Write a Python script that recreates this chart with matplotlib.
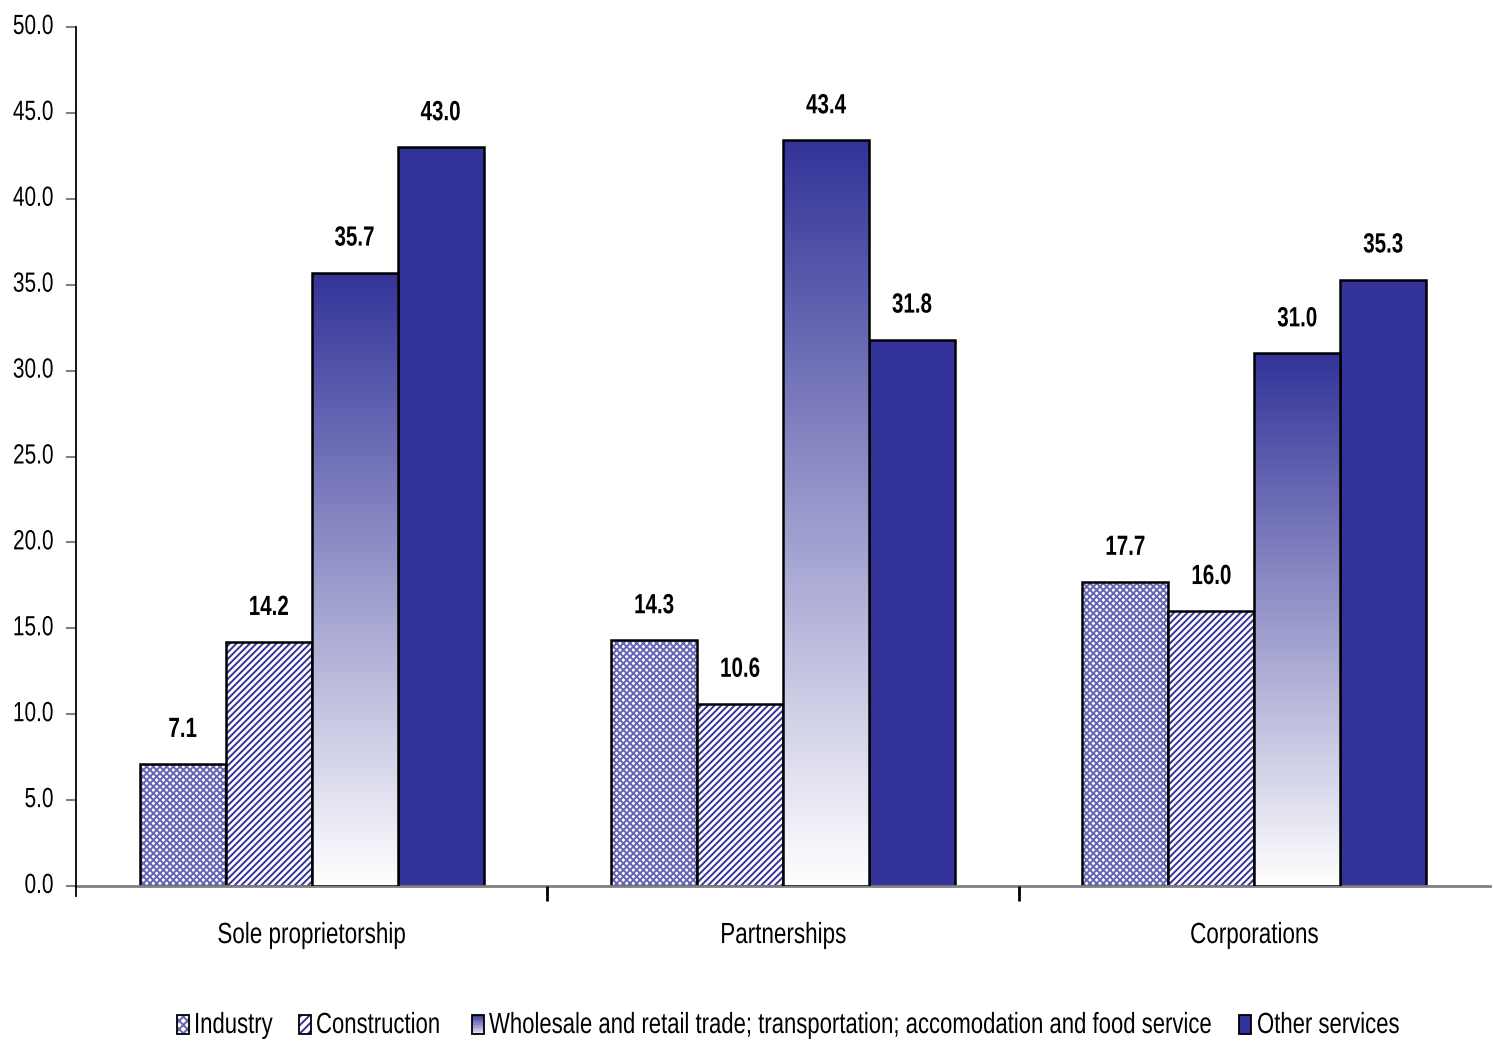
import numpy as np
import matplotlib
matplotlib.use("Agg")
import matplotlib.pyplot as plt
from matplotlib.patches import Rectangle
from matplotlib.colors import LinearSegmentedColormap
from matplotlib.lines import Line2D
from matplotlib.patheffects import AbstractPathEffect
from matplotlib.transforms import Affine2D

categories = ["Sole proprietorship", "Partnerships", "Corporations"]
series_names = ["Industry", "Construction",
                "Wholesale and retail trade; transportation; accomodation and food service",
                "Other services"]
industry = [7.1, 14.3, 17.7]
construction = [14.2, 10.6, 16.0]
wholesale = [35.7, 43.4, 31.0]
other_services = [43.0, 31.8, 35.3]
yticks = [0, 5, 10, 15, 20, 25, 30, 35, 40, 45, 50]

NAVY = "#333399"
HATCH_BLUE = "#6464b4"
FONT = ["Liberation Sans", "DejaVu Sans"]
plt.rcParams["font.family"] = FONT
plt.rcParams["hatch.linewidth"] = 1.4


class Condense(AbstractPathEffect):
    """Rescale the glyphs around a horizontal anchor and the baseline."""

    def __init__(self, sx=0.77, anchor="center", sy=1.0):
        super().__init__()
        self.sx = sx
        self.sy = sy
        self.anchor = anchor

    def draw_path(self, renderer, gc, tpath, affine, rgbFace=None):
        ext = tpath.get_extents()
        cx = {"center": (ext.x0 + ext.x1) / 2, "right": ext.x1, "left": ext.x0}[self.anchor]
        t = Affine2D().translate(-cx, 0).scale(self.sx, self.sy).translate(cx, 0)
        renderer.draw_path(gc, tpath, t + affine, rgbFace)


W, H = 1493, 1041
fig = plt.figure(figsize=(W / 100, H / 100), dpi=100)
ax = fig.add_axes([76 / W, 1 - 886 / H, (1490 - 76) / W, (886 - 27) / H])

x = np.arange(len(categories))
w = 0.1825
offsets = np.array([-1.5, -0.5, 0.5, 1.5]) * w
grad_cmap = LinearSegmentedColormap.from_list("grad", ["#ffffff", NAVY])


def label(xc, v):
    ax.annotate(f"{v:.1f}", (xc, v), xytext=(0, 19.5), textcoords="offset points",
                ha="center", va="baseline", fontsize=20, fontweight="bold",
                path_effects=[Condense(0.74, "center")])


# Industry: fine cross-hatch
for xi, v in zip(x + offsets[0], industry):
    ax.bar(xi, v, w, color="white", hatch="xxxxx", edgecolor=HATCH_BLUE, linewidth=0)
    ax.bar(xi, v, w, fill=False, edgecolor="black", linewidth=1.8)
    label(xi, v)

# Construction: diagonal stripes
for xi, v in zip(x + offsets[1], construction):
    ax.bar(xi, v, w, color="white", hatch="/////", edgecolor=NAVY, linewidth=0)
    ax.bar(xi, v, w, fill=False, edgecolor="black", linewidth=1.8)
    label(xi, v)

# Wholesale etc.: vertical gradient, white at base to navy at the top
grad = np.linspace(0, 1, 256).reshape(-1, 1)
for xi, v in zip(x + offsets[2], wholesale):
    rect = ax.bar(xi, v, w, fill=False, edgecolor="black", linewidth=1.8, zorder=3)[0]
    im = ax.imshow(grad, cmap=grad_cmap, origin="lower", aspect="auto",
                   extent=[xi - w / 2, xi + w / 2, 0, v], zorder=2)
    im.set_clip_path(rect)
    label(xi, v)

# Other services: solid navy
for xi, v in zip(x + offsets[3], other_services):
    ax.bar(xi, v, w, color=NAVY, edgecolor="black", linewidth=1.8)
    label(xi, v)

ax.set_xlim(-0.5, 2.5)
ax.set_ylim(0, 50)
ax.set_yticks(yticks)
ax.set_yticklabels([f"{t:.1f}" for t in yticks], fontsize=20)
ax.tick_params(axis="y", color="#808080", length=7, width=1.5, pad=9)
for lbl in ax.get_yticklabels():
    lbl.set_path_effects([Condense(0.75, "right")])
    lbl.set_verticalalignment("center")

ax.set_xticks([0.5, 1.5])
ax.set_xticklabels([])
ax.tick_params(axis="x", color="black", length=11, width=2)
for xi, c in zip(x, categories):
    ax.text(xi, -3.32, c, ha="center", va="baseline", fontsize=21,
            path_effects=[Condense(0.77, "center")])

for s in ["top", "right"]:
    ax.spines[s].set_visible(False)
ax.spines["bottom"].set_color("#808080")
ax.spines["bottom"].set_linewidth(2.0)
ax.spines["bottom"].set_zorder(1)
ax.spines["left"].set_color("black")
ax.spines["left"].set_linewidth(1.3)
ax.add_line(Line2D([0, 0], [0, -10 / 859], transform=ax.transAxes, color="black",
                   linewidth=1.3, clip_on=False))

# Legend row along the bottom of the figure (positions in figure pixels)
key_x = [177, 299, 472, 1239]
text_x = [194, 316, 489, 1257]
key_w, key_h = 12, 19
key_y = H - 1034
base_y = H - 1033


def fig_rect(x0, y0, **kw):
    r = Rectangle((x0 / W, y0 / H), key_w / W, key_h / H, transform=fig.transFigure,
                  figure=fig, **kw)
    fig.patches.append(r)


fig_rect(key_x[0], key_y, facecolor="white", hatch="xxxx", edgecolor=HATCH_BLUE, linewidth=0)
fig_rect(key_x[1], key_y, facecolor="white", hatch="////", edgecolor=NAVY, linewidth=0)
n = 12
for i in range(n):
    fig.patches.append(Rectangle((key_x[2] / W, (key_y + key_h * i / n) / H), key_w / W,
                                 key_h / n / H, transform=fig.transFigure, figure=fig,
                                 facecolor=grad_cmap(0.15 + 0.8 * i / (n - 1)), edgecolor="none"))
fig_rect(key_x[3], key_y, facecolor=NAVY, edgecolor="none")
for kx in key_x:
    fig_rect(kx, key_y, fill=False, edgecolor="black", linewidth=1.3)
# Legend labels: set at 16 pt and stretched vertically to a tall, narrow face
for tx, name in zip(text_x, series_names):
    fig.text(tx / W, base_y / H, name, ha="left", va="baseline", fontsize=16,
             path_effects=[Condense(0.995, "left", sy=21 / 16)])

fig.savefig("out.png", dpi=100)
